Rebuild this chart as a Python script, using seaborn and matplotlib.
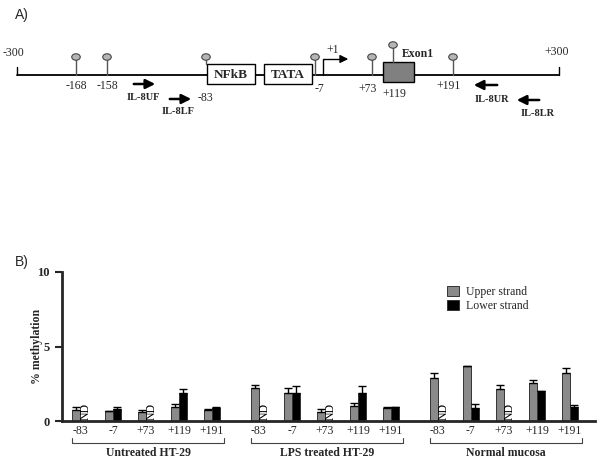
import numpy as np
import pandas as pd
import matplotlib
matplotlib.use('Agg')
import matplotlib.pyplot as plt
from matplotlib.patches import Rectangle, Ellipse, Patch
import seaborn as sns

# groups, CpG sites and strands
groups = ['Untreated HT-29', 'LPS treated HT-29', 'Normal mucosa']
sites = ['-83', '-7', '+73', '+119', '+191']
strands = ['Upper strand', 'Lower strand']

# mean % methylation (NaN = ND) and upper error, per group
upper_mean = [[0.77, 0.67, 0.58, 0.95, 0.72],
              [2.19, 1.85, 0.58, 1.00, 0.90],
              [2.90, 3.67, 2.15, 2.53, 3.20]]
upper_err = [[0.20, 0.03, 0.15, 0.18, 0.08],
             [0.23, 0.35, 0.20, 0.18, 0.05],
             [0.30, 0.03, 0.27, 0.22, 0.33]]
lower_mean = [[np.nan, 0.80, np.nan, 1.86, 0.85],
              [np.nan, 1.90, np.nan, 1.90, 0.92],
              [np.nan, 0.87, np.nan, 2.00, 0.92]]
lower_err = [[0, 0.15, 0, 0.27, 0.08],
             [0, 0.45, 0, 0.45, 0.02],
             [0, 0.27, 0, 0.03, 0.15]]

# diagram sites (panel A)
cpg_labels = ['-168', '-158', '-83', '-7', '+73', '+119', '+191']

sns.set_style("ticks")
plt.rcParams['font.family'] = ['Liberation Serif', 'DejaVu Serif']

fig = plt.figure(figsize=(6, 4.65), dpi=100)

# overlay axes in pixel coordinates for the gene diagram and labels
ov = fig.add_axes([0, 0, 1, 1])
ov.set_xlim(0, 600)
ov.set_ylim(465, 0)
ov.axis('off')

ov.text(15, 15, 'A)', fontsize=10, family='Liberation Sans', va='center')
ov.text(15, 262, 'B)', fontsize=10, family='Liberation Sans', va='center')

# main promoter line
ov.plot([17, 559], [75, 75], color='black', lw=1.3, zorder=1)
ov.plot([17, 17], [67, 75], color='black', lw=1)
ov.plot([559, 559], [67, 75], color='black', lw=1)
ov.text(13, 53, '-300', fontsize=8.5, ha='center', va='center')
ov.text(557, 52, '+300', fontsize=8.5, ha='center', va='center')

# boxes
ov.add_patch(Rectangle((207, 64), 48, 20, facecolor='white', edgecolor='black', lw=1, zorder=2))
ov.add_patch(Rectangle((264, 64), 48, 20, facecolor='white', edgecolor='black', lw=1, zorder=2))
ov.add_patch(Rectangle((383, 62), 31, 20, facecolor='#808080', edgecolor='black', lw=1, zorder=2))
ov.text(231, 74.5, 'NFkB', fontsize=9.5, weight='bold', ha='center', va='center', zorder=3)
ov.text(288, 74.5, 'TATA', fontsize=9.5, weight='bold', ha='center', va='center', zorder=3)
ov.text(418, 54, 'Exon1', fontsize=8.5, weight='bold', ha='center', va='center')

# lollipops (CpG sites)
lx = [76, 107, 206, 315, 372, 393, 453]
lbase = [75, 75, 64, 75, 75, 62, 75]
lhead = [57, 57, 57, 57, 57, 45, 57]
tx = [76, 107, 205, 319, 368, 394, 449]
ty = [86, 86, 98, 89, 89, 94, 86]
for x, b, h, t_x, t_y, lab in zip(lx, lbase, lhead, tx, ty, cpg_labels):
    ov.plot([x, x], [b, h + 2], color='#555555', lw=1, zorder=3)
    ov.add_patch(Ellipse((x, h), 8.5, 6.5, facecolor='#b5b5b5', edgecolor='#444444', lw=0.8, zorder=4))
    ov.text(t_x, t_y, lab, fontsize=8.5, ha='center', va='center')

# transcription start
ov.plot([323, 323, 345], [75, 59, 59], color='black', lw=1)
ov.annotate('', xy=(351, 59), xytext=(340, 59),
            arrowprops=dict(arrowstyle='-|>', color='black', lw=1, mutation_scale=12))
ov.text(333, 50, '+1', fontsize=8.5, ha='center', va='center')

# primers
primers = [('IL-8UF', (131, 84), (158, 84), (143, 97)),
           ('IL-8LF', (167, 99), (194, 99), (178, 111)),
           ('IL-8UR', (500, 85), (471, 85), (492, 99)),
           ('IL-8LR', (542, 100), (514, 100), (538, 113))]
for name, start, end, lpos in primers:
    ov.annotate('', xy=end, xytext=start,
                arrowprops=dict(arrowstyle='-|>', color='black', lw=1.8, mutation_scale=14))
    ov.text(lpos[0], lpos[1], name, fontsize=7.5, weight='bold', ha='center', va='center')

# bar chart data frame
step = 5.42
rows = []
for g, grp in enumerate(groups):
    for i, site in enumerate(sites):
        pos = g * step + i
        rows.append({'pos': pos, 'strand': strands[0], 'value': upper_mean[g][i]})
        rows.append({'pos': pos, 'strand': strands[1],
                     'value': 0 if np.isnan(lower_mean[g][i]) else lower_mean[g][i]})
df = pd.DataFrame(rows)

ax = fig.add_axes([62 / 600, 44 / 465, 533 / 600, 149 / 465])
ax.patch.set_alpha(0)
colors = {'Upper strand': '#8a8a8a', 'Lower strand': 'black'}
sns.barplot(data=df, x='pos', y='value', hue='strand', hue_order=strands,
            native_scale=True, width=0.48, errorbar=None, palette=colors,
            edgecolor='#333333', linewidth=0.7, legend=False, ax=ax)

half = 0.12
for g in range(3):
    for i in range(5):
        pos = g * step + i
        ax.errorbar(pos - half, upper_mean[g][i], yerr=[[0], [upper_err[g][i]]],
                    fmt='none', ecolor='black', elinewidth=1, capsize=3, capthick=1)
        if np.isnan(lower_mean[g][i]):
            ax.text(pos + half + 0.04, 0.1, 'ND', rotation=90, fontsize=8.5,
                    color='black', ha='center', va='bottom', zorder=5)
        else:
            ax.errorbar(pos + half, lower_mean[g][i], yerr=[[0], [lower_err[g][i]]],
                        fmt='none', ecolor='black', elinewidth=1, capsize=3, capthick=1)

ax.set_xlim(-0.545, 15.6)
ax.set_ylim(0, 10)
ax.set_yticks([0, 5, 10])
ax.set_yticklabels(['0', '5', '10'], fontsize=9, weight='bold')
centers = [g * step + i for g in range(3) for i in range(5)]
ax.set_xticks(centers)
ax.set_xticklabels(sites * 3, fontsize=8.5)
ax.tick_params(axis='x', length=0, pad=3)
ax.tick_params(axis='y', length=5, width=1.5, pad=4)
ax.set_xlabel('')
ax.set_ylabel('% methylation', fontsize=8.5, weight='bold')
ax.yaxis.set_label_coords(-0.036, 0.5)
sns.despine(ax=ax)
ax.spines['left'].set_linewidth(2)
ax.spines['bottom'].set_linewidth(2)

# group brackets
trans = ax.get_xaxis_transform()
for g, grp in enumerate(groups):
    x0 = g * step - 0.24
    x1 = g * step + 4 + 0.36
    ax.plot([x0, x0, x1, x1], [-0.115, -0.148, -0.148, -0.115], color='#444444',
            lw=0.8, transform=trans, clip_on=False)
    ax.text((x0 + x1) / 2, -0.215, grp, fontsize=8.5, weight='bold',
            ha='center', va='center', transform=trans)

handles = [Patch(facecolor=colors[s], edgecolor='#333333', lw=0.7) for s in strands]
ax.legend(handles, strands, loc='upper left', bbox_to_anchor=(447 / 600, 1 - 286 / 465),
          bbox_transform=fig.transFigure, frameon=False, fontsize=8.5,
          handlelength=1.0, handleheight=0.9, handletextpad=0.6, labelspacing=0.2,
          borderaxespad=0, borderpad=0)

fig.savefig('out.png', dpi=100)
